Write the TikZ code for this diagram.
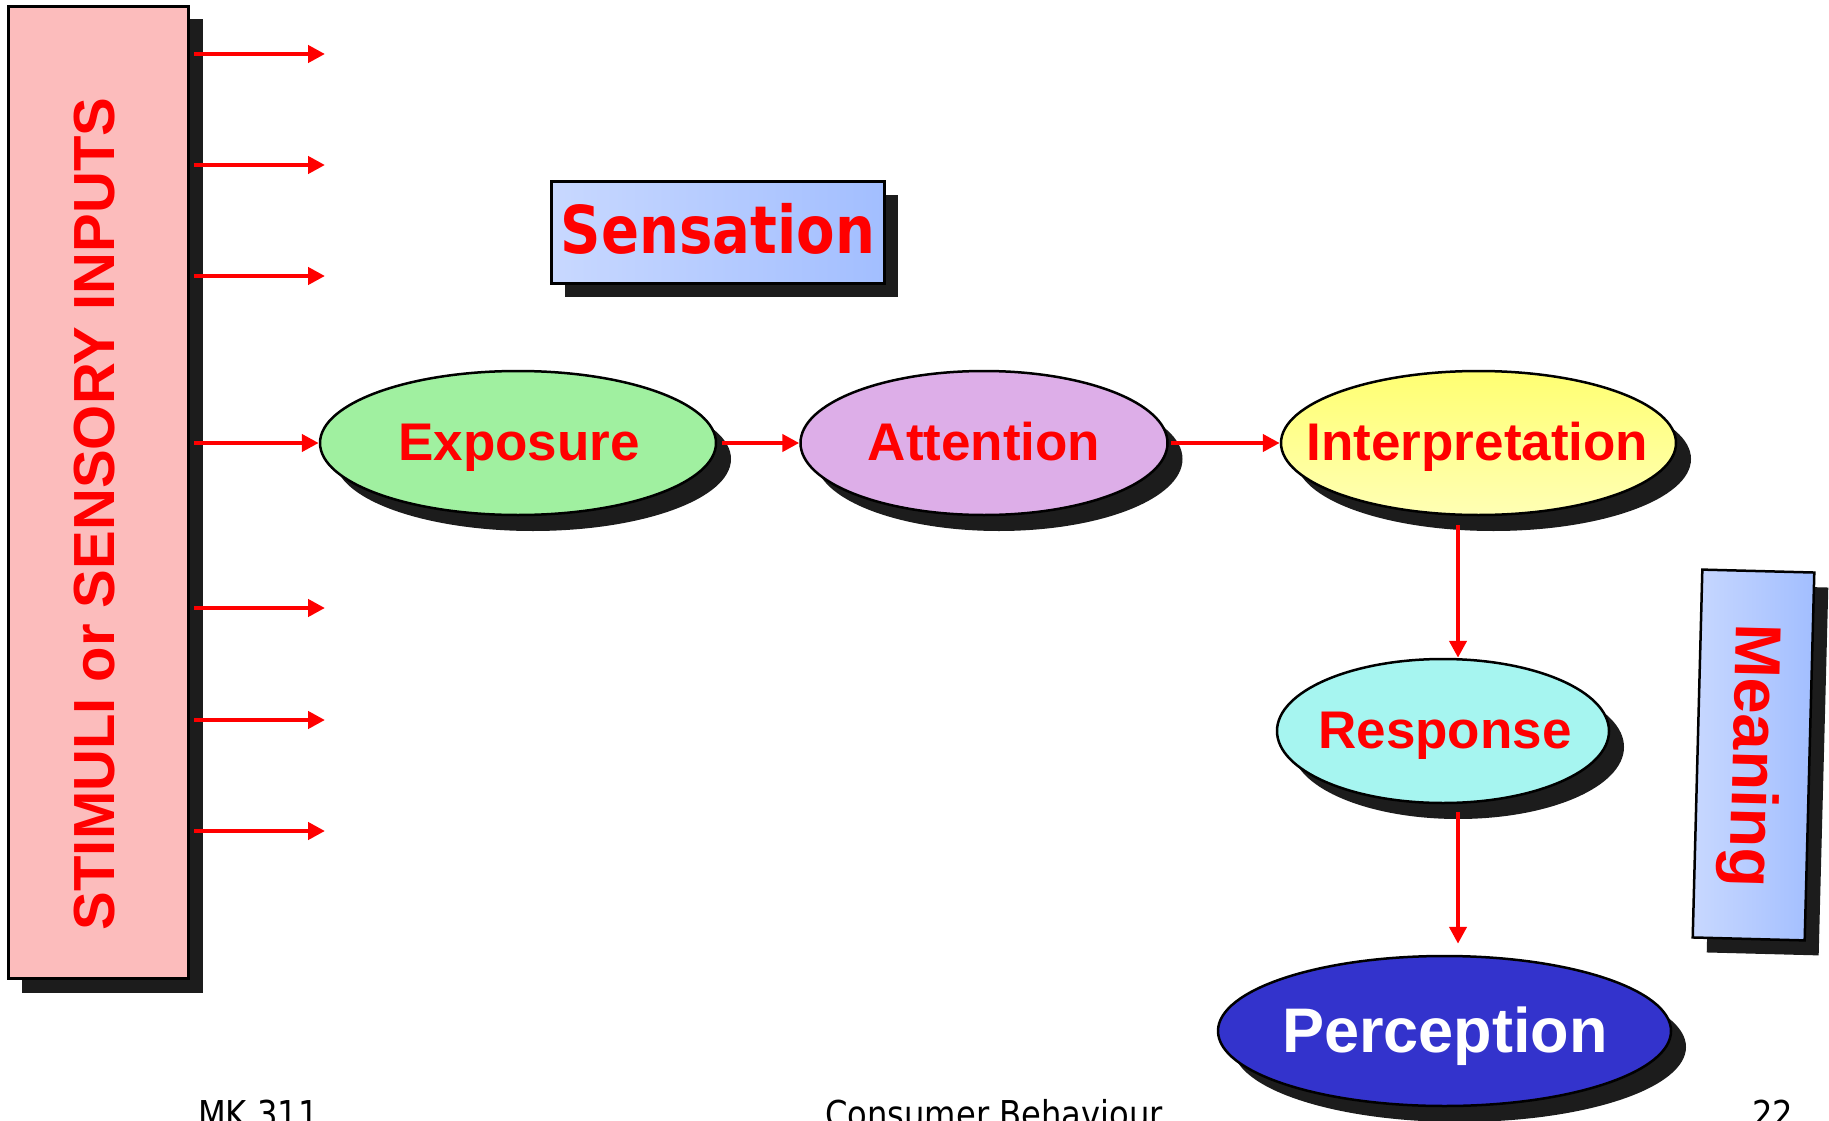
\documentclass[tikz,border=0pt]{standalone}
\usepackage{fontspec}
\usepackage{graphicx}
\setmainfont{Liberation Sans}
\newfontfamily\tahfont{DejaVu Sans}
\usetikzlibrary{shapes.geometric,arrows.meta,calc}

\definecolor{shadowgray}{HTML}{1C1C1C}
\definecolor{stimpink}{HTML}{FCBCBC}
\definecolor{boxlight}{HTML}{C8D8FF}
\definecolor{boxdark}{HTML}{A2BEFF}
\definecolor{expofill}{HTML}{A0F0A0}
\definecolor{attfill}{HTML}{DDAEE8}
\definecolor{interplight}{HTML}{FFFFB4}
\definecolor{interpdark}{HTML}{FFFF72}
\definecolor{respfill}{HTML}{A6F5F0}
\definecolor{percfill}{HTML}{3333CC}

\begin{document}
\begin{tikzpicture}[x=1pt,y=-1pt,
  arr/.style={draw=red, line width=4.5pt, -{Triangle[length=17pt,width=17pt]}},
  oval/.style={ellipse, draw=black, line width=2.5pt, inner sep=0pt},
  ovalshadow/.style={ellipse, fill=shadowgray, inner sep=0pt},
  ovaltext/.style={inner sep=0pt, text=red,
    font=\bfseries\fontsize{53}{60}\selectfont, text height=38pt, text depth=0pt},
  panel/.style={draw=black, line width=2.5pt, inner sep=0pt},
  panelshadow/.style={fill=shadowgray, inner sep=0pt},
  foot/.style={anchor=base west, inner sep=0pt, font=\tahfont\fontsize{37}{40}\selectfont}]

\useasboundingbox (0,0) rectangle (1829,1121);
\clip (0,0) rectangle (1829,1121);
\fill[white] (0,0) rectangle (1829,1121);

% ---- stimuli column
\fill[shadowgray] (22,19) rectangle (203,993);
\node[panel, fill=stimpink, minimum width=180pt, minimum height=972pt] (stim) at (98.5,492.5) {};
\node[rotate=90, inner sep=0pt, text=red, font=\bfseries\fontsize{58}{60}\selectfont,
      text height=41.5pt, text depth=0pt] (stimtext) at (93.5,514) {STIMULI or SENSORY INPUTS};

% ---- sensation label
\fill[shadowgray] (565,195) rectangle (898,297);
\node[panel, left color=boxlight, right color=boxdark, minimum width=333pt, minimum height=102pt,
      text=red, font=\tahfont\bfseries\fontsize{66}{70}\selectfont,
      text height=48pt, text depth=7pt] (sens) at (718,232.5) {\scalebox{0.85}[1]{Sensation}};

% ---- process ovals (shadows first)
\node[ovalshadow, minimum width=396pt, minimum height=144pt] at (533,459) {};
\node[ovalshadow, minimum width=367pt, minimum height=144pt] at (999,459) {};
\node[ovalshadow, minimum width=395pt, minimum height=144pt] at (1493.5,459) {};
\node[ovalshadow, minimum width=332pt, minimum height=144pt] at (1458,747) {};
\node[ovalshadow, minimum width=453pt, minimum height=150pt] at (1459.5,1047) {};

\node[oval, fill=expofill, minimum width=396pt, minimum height=144pt] (expo) at (518,443) {};
\node[oval, fill=attfill, minimum width=367pt, minimum height=144pt] (att) at (984,443) {};
\node[oval, top color=interpdark, bottom color=interplight, minimum width=395pt, minimum height=144pt] (interp) at (1478.5,443) {};
\node[oval, fill=respfill, minimum width=332pt, minimum height=144pt] (resp) at (1443,731) {};
\node[oval, fill=percfill, minimum width=453pt, minimum height=150pt] (perc) at (1444.5,1031) {};

\node[ovaltext] (expotext) at (519,441.5) {Exposure};
\node[ovaltext] (atttext) at (984,441.5) {Attention};
\node[ovaltext] (interptext) at (1477.5,441.5) {Interpretation};
\node[ovaltext] (resptext) at (1445,729.5) {Response};
\node[ovaltext, text=white, font=\bfseries\fontsize{63}{70}\selectfont, text height=45pt]
      (perctext) at (1445,1030) {Perception};

% ---- meaning label
\node[panelshadow, rotate=-1.5, minimum width=112pt, minimum height=368pt] at (1767.5,770) {};
\node[panel, rotate=-1.5, left color=boxlight, right color=boxdark,
      minimum width=112pt, minimum height=368pt] (meaning) at (1753.5,755) {};
\node[rotate=-91.5, inner sep=0pt, text=red, font=\bfseries\fontsize{65}{70}\selectfont,
      text height=46.5pt, text depth=0pt] (meaningtext) at (1756.5,756) {Meaning};

% ---- stimulus arrows
\foreach \yy [count=\i] in {54,165,276,608,720,831} {
  \coordinate (tip\i) at (325,\yy);
  \draw[arr, shorten <=4pt] (tip\i -| stim.east) -- (tip\i);
}
\draw[arr, shorten <=4pt] (expo.west -| stim.east) -- (expo.west);

% ---- process arrows
\draw[arr, shorten <=5pt] (expo.east) -- (att.west);
\draw[arr, shorten <=2pt] (att.east) -- (interp.west);
\coordinate (vx) at (1458,0);
\draw[arr, shorten <=9pt] (interp.south -| vx) -- (resp.north -| vx);
\draw[arr, shorten <=8pt, shorten >=11pt] (resp.south -| vx) -- (perc.north -| vx);

% ---- footer
\node[foot] (course) at (198,1127) {\scalebox{0.87}[1]{MK 311}};
\node[foot] (title) at (825,1127) {\scalebox{0.87}[1]{Consumer Behaviour}};
\node[foot] (page) at (1752,1127) {\scalebox{0.87}[1]{22}};
\end{tikzpicture}
\end{document}
